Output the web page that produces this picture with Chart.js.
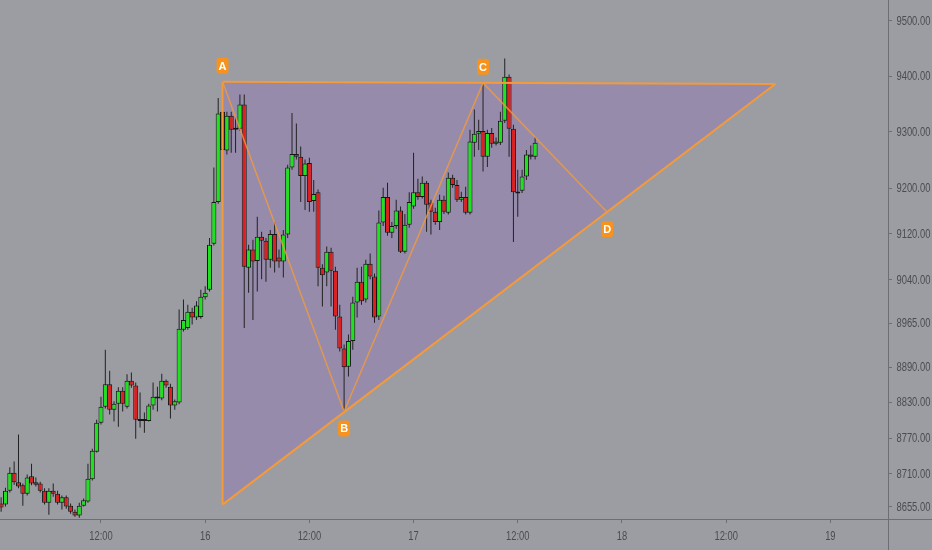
<!DOCTYPE html>
<html>
<head>
<meta charset="utf-8">
<script src="https://cdn.jsdelivr.net/npm/chart.js@4.4.1/dist/chart.umd.min.js"></script>
<style>
  html, body { margin: 0; padding: 0; background: #9b9da3; }
  #wrap { width: 932px; height: 550px; position: relative; }
</style>
</head>
<body>
<div id="wrap"><canvas id="chart"></canvas></div>
<script>
// 30 minute candles, hours counted from the 16th 00:00
const firstCandleHour = -23.5;
const candleStepHours = 0.5;

const opens = [8661, 8659, 8682, 8712, 8696, 8691, 8677, 8706, 8696, 8694, 8682, 8662, 8682, 8677, 8662, 8671,
  8657, 8647, 8641, 8657, 8664, 8701, 8747, 8796, 8823, 8861, 8818, 8828, 8850, 8823, 8867, 8859,
  8801, 8800, 8799, 8825, 8840, 8837, 8867, 8857, 8825, 8830, 8954, 8957, 8985, 8975, 8976, 9010,
  9023, 9103, 9176, 9336, 9267, 9329, 9307, 9306, 9349, 9061, 9093, 9073, 9115, 9108, 9075, 9120,
  9079, 9072, 9119, 9237, 9261, 9256, 9222, 9245, 9178, 9193, 9061, 9053, 9089, 9056, 8977, 8922,
  8891, 8935, 9001, 9037, 9006, 9068, 9046, 8977, 9140, 9185, 9122, 9134, 9161, 9089, 9136, 9168,
  9193, 9185, 9210, 9175, 9159, 9141, 9180, 9157, 9219, 9206, 9180, 9185, 9157, 9281, 9297, 9302,
  9256, 9298, 9279, 9281, 9320, 9399, 9306, 9193, 9196, 9221, 9260, 9256];
const highs = [8671, 8687, 8721, 8731, 8776, 8694, 8709, 8727, 8704, 8697, 8686, 8686, 8694, 8682, 8674, 8674,
  8661, 8651, 8662, 8669, 8727, 8752, 8801, 8840, 8920, 8884, 8832, 8856, 8856, 8878, 8881, 8864,
  8847, 8813, 8828, 8864, 8857, 8879, 8869, 8862, 8835, 8989, 9006, 8997, 8992, 9003, 9023, 9029,
  9113, 9237, 9361, 9390, 9336, 9336, 9327, 9367, 9367, 9101, 9110, 9150, 9124, 9113, 9127, 9141,
  9093, 9127, 9242, 9334, 9315, 9274, 9251, 9254, 9215, 9198, 9067, 9098, 9096, 9063, 8997, 8929,
  8946, 9011, 9061, 9063, 9075, 9086, 9051, 9161, 9201, 9210, 9141, 9180, 9168, 9155, 9193, 9263,
  9217, 9221, 9213, 9180, 9166, 9189, 9187, 9228, 9224, 9215, 9194, 9203, 9304, 9340, 9322, 9388,
  9304, 9307, 9290, 9336, 9432, 9403, 9313, 9233, 9233, 9268, 9276, 9291];
const lows = [8647, 8656, 8679, 8692, 8686, 8657, 8674, 8691, 8689, 8679, 8659, 8642, 8672, 8659, 8651, 8652,
  8644, 8639, 8637, 8656, 8662, 8699, 8746, 8793, 8820, 8810, 8798, 8789, 8815, 8820, 8855, 8769,
  8788, 8779, 8798, 8818, 8815, 8834, 8855, 8803, 8818, 8827, 8951, 8954, 8963, 8971, 8973, 9006,
  9020, 9100, 9173, 9264, 9260, 9263, 9263, 9302, 8957, 9018, 8971, 9020, 9041, 9037, 9061, 9053,
  9061, 9044, 9113, 9233, 9251, 9176, 9162, 9159, 9159, 9029, 8994, 9029, 8994, 8954, 8917, 8813,
  8874, 8920, 8975, 8997, 9001, 9041, 8966, 8971, 9134, 9117, 9113, 9129, 9087, 9086, 9131, 9164,
  9180, 9182, 9124, 9119, 9136, 9127, 9155, 9154, 9201, 9176, 9176, 9154, 9154, 9256, 9268, 9230,
  9238, 9272, 9276, 9277, 9316, 9256, 9106, 9150, 9192, 9215, 9251, 9251];
const closes = [8654, 8682, 8712, 8696, 8689, 8677, 8704, 8694, 8692, 8682, 8662, 8682, 8677, 8662, 8671, 8656,
  8647, 8641, 8657, 8666, 8702, 8749, 8796, 8823, 8861, 8818, 8828, 8850, 8828, 8867, 8859, 8801,
  8799, 8799, 8825, 8840, 8837, 8867, 8859, 8825, 8832, 8956, 8971, 8985, 8975, 8996, 9011, 9018,
  9101, 9176, 9333, 9268, 9329, 9304, 9304, 9349, 9063, 9093, 9072, 9115, 9108, 9075, 9120, 9072,
  9072, 9119, 9237, 9261, 9256, 9222, 9244, 9176, 9190, 9061, 9048, 9089, 9056, 8977, 8922, 8890,
  8935, 9001, 9037, 9003, 9068, 9046, 8975, 9140, 9185, 9122, 9134, 9161, 9089, 9136, 9176, 9193,
  9185, 9210, 9171, 9159, 9141, 9180, 9159, 9219, 9206, 9180, 9185, 9157, 9283, 9297, 9302, 9256,
  9298, 9279, 9283, 9320, 9399, 9306, 9193, 9191, 9221, 9260, 9256, 9281];

const priceTicks = [9500, 9400, 9300, 9200, 9120, 9040, 8965, 8890, 8830, 8770, 8710, 8655];
const timeTicks = [-12, 0, 12, 24, 36, 48, 60, 72];
const timeTickLabels = ['12:00', '16', '12:00', '17', '12:00', '18', '12:00', '19'];

// ABCD drawing on top of the candles
const patternNames = ['A', 'B', 'C', 'D'];
const patternHours = [2, 16, 32, 46.3];
const patternPrices = [9390, 8815, 9388, 9158];
const patternLabelBelow = [false, true, false, true];
// triangle: apex A, far right point, bottom left
const triangleHours = [2, 65.66, 2];
const trianglePrices = [9390, 9386, 8659];

const candleHours = opens.map((_, i) => firstCandleHour + i * candleStepHours);
const upColor = '#1fe21f';
const downColor = '#dc1f1f';
const candleColors = opens.map((o, i) => closes[i] >= o ? upColor : downColor);
const orange = '#f59a3a';
const axisColor = '#6c6e74';
const textColor = '#4a4c52';
const tickFont = { family: '"Liberation Sans", Arial, sans-serif', size: 11 };

// narrow axis text, like the terminal's price scale
function drawNarrow(ctx, text, x, y, align) {
    ctx.save();
    ctx.translate(x, y);
    ctx.scale(0.78, 1);
    ctx.textAlign = align;
    ctx.fillText(text, 0, 0);
    ctx.restore();
}

const overlayPlugin = {
    id: 'overlay',
    afterDraw(chart) {
        const { ctx, chartArea, scales } = chart;
        ctx.save();
        // price / time axis lines run across the whole canvas
        ctx.strokeStyle = axisColor;
        ctx.lineWidth = 1;
        const bx = Math.round(chartArea.right) + 0.5;
        const by = Math.round(chartArea.bottom) + 0.5;
        ctx.beginPath();
        ctx.moveTo(0, by); ctx.lineTo(chart.width, by);
        ctx.moveTo(bx, 0); ctx.lineTo(bx, chart.height);
        ctx.stroke();

        // axis labels
        ctx.fillStyle = textColor;
        ctx.font = '12px "Liberation Sans", Arial, sans-serif';
        ctx.textBaseline = 'middle';
        scales.y.ticks.forEach(t => {
            drawNarrow(ctx, t.value.toFixed(2), bx + 8, scales.y.getPixelForValue(t.value) + 0.5, 'left');
        });
        scales.x.ticks.forEach((t, i) => {
            drawNarrow(ctx, timeTickLabels[i], scales.x.getPixelForValue(t.value), by + 17, 'center');
        });

        // point labels
        ctx.font = 'bold 11px "Liberation Sans", Arial, sans-serif';
        ctx.textAlign = 'center';
        patternNames.forEach((name, i) => {
            const x = scales.x.getPixelForValue(patternHours[i]);
            const y = scales.y.getPixelForValue(patternPrices[i]) + (patternLabelBelow[i] ? 17 : -16);
            ctx.fillStyle = '#f7931c';
            ctx.beginPath();
            ctx.roundRect(x - 6, y - 8, 12, 16, 3);
            ctx.fill();
            ctx.fillStyle = '#ffffff';
            ctx.fillText(name, x, y + 1);
        });
        ctx.restore();
    }
};

new Chart(document.getElementById('chart'), {
    type: 'bar',
    data: {
        datasets: [
            {
                // top edge, filled down to the lower edge
                type: 'line',
                data: [0, 1].map(i => ({ x: triangleHours[i], y: trianglePrices[i] })),
                borderColor: orange,
                borderWidth: 2,
                pointRadius: 0,
                fill: '+1',
                backgroundColor: 'rgba(140, 100, 190, 0.30)',
                order: 0
            },
            {
                type: 'line',
                data: [2, 1].map(i => ({ x: triangleHours[i], y: trianglePrices[i] })),
                borderColor: orange,
                borderWidth: 2,
                pointRadius: 0,
                fill: false,
                order: 0
            },
            {
                type: 'line',
                data: [0, 2].map(i => ({ x: triangleHours[i], y: trianglePrices[i] })),
                borderColor: orange,
                borderWidth: 2,
                pointRadius: 0,
                fill: false,
                order: 0
            },
            {
                type: 'line',
                data: patternHours.map((h, i) => ({ x: h, y: patternPrices[i] })),
                borderColor: 'rgba(245, 154, 58, 0.8)',
                borderWidth: 1.5,
                pointRadius: 0,
                fill: false,
                order: 0
            },
            {
                // candle bodies
                data: candleHours.map((h, i) => ({ x: h, y: [opens[i], closes[i]] })),
                backgroundColor: candleColors,
                borderColor: '#161616',
                borderWidth: 1,
                borderSkipped: false,
                inflateAmount: 0,
                barThickness: 5,
                minBarLength: 2,
                grouped: false,
                order: 4
            },
            {
                // wicks
                data: candleHours.map((h, i) => ({ x: h, y: [lows[i], highs[i]] })),
                backgroundColor: '#222222',
                borderWidth: 0,
                inflateAmount: 0,
                barThickness: 1,
                grouped: false,
                order: 5
            }
        ]
    },
    options: {
        responsive: true,
        maintainAspectRatio: false,
        animation: false,
        events: [],
        layout: { padding: 0 },
        plugins: {
            legend: { display: false },
            tooltip: { enabled: false },
            filler: { drawTime: 'beforeDatasetsDraw' }
        },
        scales: {
            x: {
                type: 'linear',
                position: 'bottom',
                min: -23.63,
                max: 78.64,
                offset: false,
                border: { display: false },
                grid: { offset: false, drawOnChartArea: false, drawTicks: true, tickLength: 4, color: axisColor },
                afterBuildTicks: (scale) => { scale.ticks = timeTicks.map(v => ({ value: v })); },
                afterFit: (scale) => {
                    scale.height = 31;
                    scale.paddingLeft = 0;
                    scale.paddingRight = 0;
                },
                ticks: {
                    autoSkip: false,
                    maxRotation: 0,
                    padding: 6,
                    color: 'rgba(0,0,0,0)',
                    font: tickFont,
                    callback: (v, i) => timeTickLabels[i]
                }
            },
            y: {
                type: 'logarithmic',
                position: 'right',
                min: 8635.1,
                max: 9538.3,
                bounds: 'data',
                border: { display: false },
                grid: { drawOnChartArea: false, drawTicks: true, tickLength: 4, color: axisColor },
                afterBuildTicks: (scale) => { scale.ticks = priceTicks.map(v => ({ value: v })); },
                afterFit: (scale) => {
                    scale.width = 44;
                    scale.paddingTop = 0;
                    scale.paddingBottom = 0;
                },
                ticks: {
                    autoSkip: false,
                    padding: 3,
                    color: 'rgba(0,0,0,0)',
                    font: tickFont,
                    callback: (v) => Number(v).toFixed(2)
                }
            }
        }
    },
    plugins: [overlayPlugin]
});
</script>
</body>
</html>
